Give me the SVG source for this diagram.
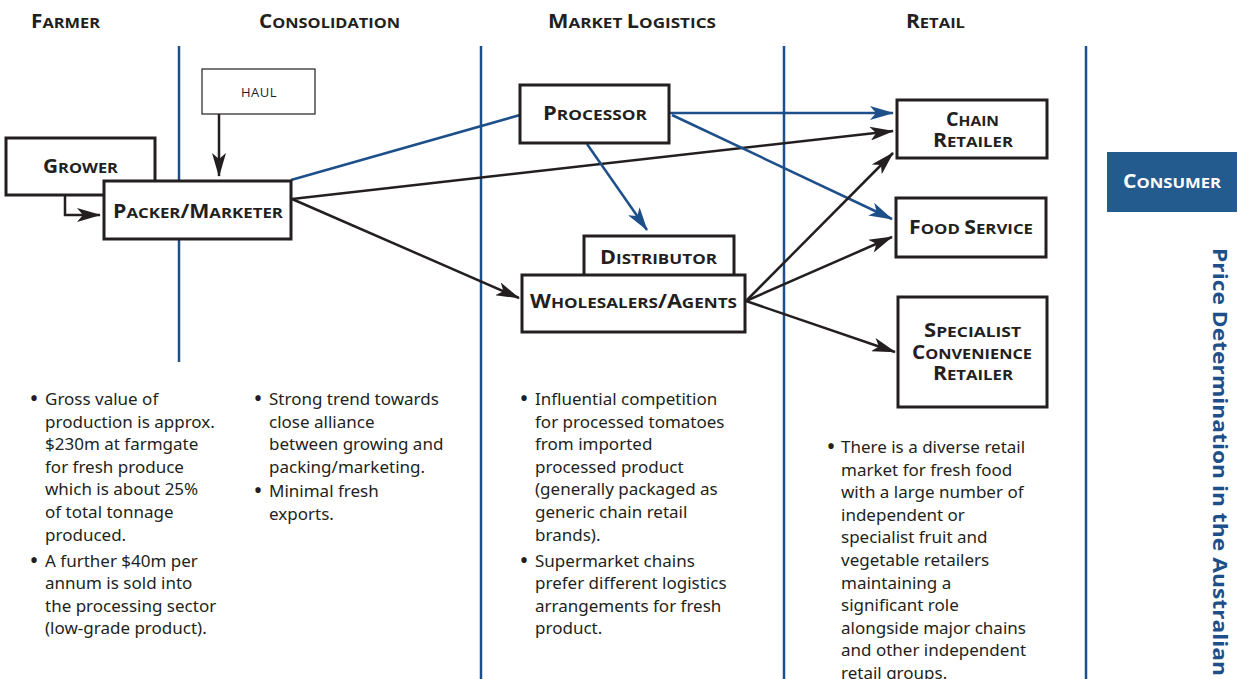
<svg xmlns="http://www.w3.org/2000/svg" width="1244" height="679" viewBox="0 0 1244 679">
  <style>
    .hdr { font-family: "Open Sans", "Liberation Sans", sans-serif; font-weight: 700; fill: #231f20; }
    .lbl { font-family: "Open Sans", "Liberation Sans", sans-serif; font-weight: 700; fill: #231f20; }
    .b { font-size: 19px; }
    .s { font-size: 15px; }
    .box { fill: #ffffff; stroke: #231f20; stroke-width: 3; }
    .thin { fill: #ffffff; stroke: #231f20; stroke-width: 1.2; }
    .sep { stroke: #1d4f8a; stroke-width: 2.5; }
    .blk { stroke: #231f20; stroke-width: 2.5; fill: none; }
    .blu { stroke: #1d4f8a; stroke-width: 2.5; fill: none; }
    .note { font-family: "Noto Sans", "Open Sans", sans-serif; font-size: 17px; fill: #231f20; }
    .dot { font-family: "Noto Sans", "Open Sans", sans-serif; font-size: 24px; fill: #231f20; text-anchor: middle; }
  </style>
  <defs>
    <marker id="ah" markerUnits="userSpaceOnUse" markerWidth="24" markerHeight="14" viewBox="0 0 24 14" refX="23" refY="7" orient="auto">
      <path d="M0,0 L24,7 L0,14 L6,7 z" fill="#231f20"/>
    </marker>
    <marker id="ahb" markerUnits="userSpaceOnUse" markerWidth="24" markerHeight="14" viewBox="0 0 24 14" refX="23" refY="7" orient="auto">
      <path d="M0,0 L24,7 L0,14 L6,7 z" fill="#1d4f8a"/>
    </marker>
  </defs>
  <rect width="1244" height="679" fill="#ffffff"/>

  <!-- column headers -->
  <g id="headers">
    <text class="hdr" x="31" y="28" textLength="69" lengthAdjust="spacingAndGlyphs"><tspan class="b">F</tspan><tspan class="s">ARMER</tspan></text>
    <text class="hdr" x="259" y="28" textLength="141" lengthAdjust="spacingAndGlyphs"><tspan class="b">C</tspan><tspan class="s">ONSOLIDATION</tspan></text>
    <text class="hdr" x="548" y="28" textLength="168" lengthAdjust="spacingAndGlyphs"><tspan class="b">M</tspan><tspan class="s">ARKET </tspan><tspan class="b">L</tspan><tspan class="s">OGISTICS</tspan></text>
    <text class="hdr" x="906" y="28" textLength="59" lengthAdjust="spacingAndGlyphs"><tspan class="b">R</tspan><tspan class="s">ETAIL</tspan></text>
  </g>

  <!-- column separators -->
  <g id="separators">
    <line class="sep" x1="179" y1="46" x2="179" y2="362"/>
    <line class="sep" x1="481" y1="46" x2="481" y2="679"/>
    <line class="sep" x1="784" y1="46" x2="784" y2="679"/>
    <line class="sep" x1="1086" y1="46" x2="1086" y2="679"/>
  </g>

  <!-- connectors -->
  <g id="connectors">
    <path class="blk" d="M65,195 V215 H100" marker-end="url(#ah)"/>
    <path class="blk" d="M219,114 V176" stroke-width="1.5" marker-end="url(#ah)"/>
    <path class="blu" d="M291,180 L520,115"/>
    <path class="blk" d="M292,199 L893,131" marker-end="url(#ah)"/>
    <path class="blk" d="M292,199 L519,298" marker-end="url(#ah)"/>
    <path class="blu" d="M669,113 L893,113" marker-end="url(#ahb)"/>
    <path class="blu" d="M672,115 L892,219" marker-end="url(#ahb)"/>
    <path class="blu" d="M587,144 L647,230" marker-end="url(#ahb)"/>
    <path class="blk" d="M746,301 L893,153" marker-end="url(#ah)"/>
    <path class="blk" d="M746,301 L892,237" marker-end="url(#ah)"/>
    <path class="blk" d="M746,301 L895,352" marker-end="url(#ah)"/>
  </g>

  <!-- nodes -->
  <g id="haul">
    <rect class="thin" x="202" y="69" width="113" height="45"/>
    <text x="259" y="97" text-anchor="middle" font-family="Open Sans, Liberation Sans, sans-serif" font-size="13" fill="#231f20" letter-spacing="0.5">HAUL</text>
  </g>
  <g id="grower">
    <rect class="box" x="6" y="138" width="149" height="57"/>
    <text class="lbl" x="80.5" y="173" text-anchor="middle" textLength="75" lengthAdjust="spacingAndGlyphs"><tspan class="b">G</tspan><tspan class="s">ROWER</tspan></text>
  </g>
  <g id="packer">
    <rect class="box" x="104" y="181" width="187" height="58"/>
    <text class="lbl" x="198" y="218" text-anchor="middle" textLength="170" lengthAdjust="spacingAndGlyphs"><tspan class="b">P</tspan><tspan class="s">ACKER</tspan><tspan class="b">/M</tspan><tspan class="s">ARKETER</tspan></text>
  </g>
  <g id="processor">
    <rect class="box" x="520" y="85" width="149" height="58"/>
    <text class="lbl" x="595" y="120" text-anchor="middle" textLength="104" lengthAdjust="spacingAndGlyphs"><tspan class="b">P</tspan><tspan class="s">ROCESSOR</tspan></text>
  </g>
  <g id="distributor">
    <rect class="box" x="584" y="236" width="150" height="43"/>
    <text class="lbl" x="658.5" y="264" text-anchor="middle" textLength="117" lengthAdjust="spacingAndGlyphs"><tspan class="b">D</tspan><tspan class="s">ISTRIBUTOR</tspan></text>
  </g>
  <g id="wholesalers">
    <rect class="box" x="522" y="275" width="223" height="57"/>
    <text class="lbl" x="633.5" y="308" text-anchor="middle" textLength="207" lengthAdjust="spacingAndGlyphs"><tspan class="b">W</tspan><tspan class="s">HOLESALERS</tspan><tspan class="b">/A</tspan><tspan class="s">GENTS</tspan></text>
  </g>
  <g id="chain-retailer">
    <rect class="box" x="897" y="100" width="150" height="58"/>
    <text class="lbl" x="972.5" y="126" text-anchor="middle" textLength="53" lengthAdjust="spacingAndGlyphs"><tspan class="b">C</tspan><tspan class="s">HAIN</tspan></text>
    <text class="lbl" x="973" y="147" text-anchor="middle" textLength="80" lengthAdjust="spacingAndGlyphs"><tspan class="b">R</tspan><tspan class="s">ETAILER</tspan></text>
  </g>
  <g id="food-service">
    <rect class="box" x="896" y="198" width="150" height="59"/>
    <text class="lbl" x="971" y="234" text-anchor="middle" textLength="124" lengthAdjust="spacingAndGlyphs"><tspan class="b">F</tspan><tspan class="s">OOD </tspan><tspan class="b">S</tspan><tspan class="s">ERVICE</tspan></text>
  </g>
  <g id="specialist">
    <rect class="box" x="898" y="297" width="149" height="110"/>
    <text class="lbl" x="972.5" y="337" text-anchor="middle" textLength="97" lengthAdjust="spacingAndGlyphs"><tspan class="b">S</tspan><tspan class="s">PECIALIST</tspan></text>
    <text class="lbl" x="972" y="359" text-anchor="middle" textLength="120" lengthAdjust="spacingAndGlyphs"><tspan class="b">C</tspan><tspan class="s">ONVENIENCE</tspan></text>
    <text class="lbl" x="973" y="380" text-anchor="middle" textLength="80" lengthAdjust="spacingAndGlyphs"><tspan class="b">R</tspan><tspan class="s">ETAILER</tspan></text>
  </g>
  <g id="consumer">
    <rect x="1107" y="152" width="130" height="60" fill="#245b8f"/>
    <text class="lbl" x="1172" y="188" text-anchor="middle" textLength="98" lengthAdjust="spacingAndGlyphs" style="fill:#ffffff"><tspan class="b">C</tspan><tspan class="s">ONSUMER</tspan></text>
  </g>

  <!-- vertical title -->
  <text transform="translate(1213,248) rotate(90)" font-family="Open Sans, DejaVu Sans, sans-serif" font-weight="700" font-size="20" fill="#1d4f8a" textLength="428" lengthAdjust="spacingAndGlyphs">Price Determination in the Australian</text>

  <!-- notes -->
  <g id="notes-farmer">
    <text class="dot" x="34" y="407">•</text>
    <text class="dot" x="34" y="568.5">•</text>
    <text class="note">
      <tspan x="45" y="405">Gross value of</tspan>
      <tspan x="45" y="427.6">production is approx.</tspan>
      <tspan x="45" y="450.2">$230m at farmgate</tspan>
      <tspan x="45" y="472.8">for fresh produce</tspan>
      <tspan x="45" y="495.4">which is about 25%</tspan>
      <tspan x="45" y="518">of total tonnage</tspan>
      <tspan x="45" y="540.6">produced.</tspan>
      <tspan x="45" y="566.5">A further $40m per</tspan>
      <tspan x="45" y="589.1">annum is sold into</tspan>
      <tspan x="45" y="611.7">the processing sector</tspan>
      <tspan x="45" y="634.3">(low-grade product).</tspan>
    </text>
  </g>
  <g id="notes-consolidation">
    <text class="dot" x="258" y="407">•</text>
    <text class="dot" x="258" y="499">•</text>
    <text class="note">
      <tspan x="269" y="405">Strong trend towards</tspan>
      <tspan x="269" y="427.6">close alliance</tspan>
      <tspan x="269" y="450.2">between growing and</tspan>
      <tspan x="269" y="472.8">packing/marketing.</tspan>
      <tspan x="269" y="497">Minimal fresh</tspan>
      <tspan x="269" y="519.6">exports.</tspan>
    </text>
  </g>
  <g id="notes-logistics">
    <text class="dot" x="524" y="407">•</text>
    <text class="dot" x="524" y="568.5">•</text>
    <text class="note">
      <tspan x="535" y="405">Influential competition</tspan>
      <tspan x="535" y="427.6">for processed tomatoes</tspan>
      <tspan x="535" y="450.2">from imported</tspan>
      <tspan x="535" y="472.8">processed product</tspan>
      <tspan x="535" y="495.4">(generally packaged as</tspan>
      <tspan x="535" y="518">generic chain retail</tspan>
      <tspan x="535" y="540.6">brands).</tspan>
      <tspan x="535" y="566.5">Supermarket chains</tspan>
      <tspan x="535" y="589.1">prefer different logistics</tspan>
      <tspan x="535" y="611.7">arrangements for fresh</tspan>
      <tspan x="535" y="634.3">product.</tspan>
    </text>
  </g>
  <g id="notes-retail">
    <text class="dot" x="831" y="455">•</text>
    <text class="note">
      <tspan x="841" y="453">There is a diverse retail</tspan>
      <tspan x="841" y="475.6">market for fresh food</tspan>
      <tspan x="841" y="498.2">with a large number of</tspan>
      <tspan x="841" y="520.8">independent or</tspan>
      <tspan x="841" y="543.4">specialist fruit and</tspan>
      <tspan x="841" y="566">vegetable retailers</tspan>
      <tspan x="841" y="588.6">maintaining a</tspan>
      <tspan x="841" y="611.2">significant role</tspan>
      <tspan x="841" y="633.8">alongside major chains</tspan>
      <tspan x="841" y="656.4">and other independent</tspan>
      <tspan x="841" y="679">retail groups.</tspan>
    </text>
  </g>
</svg>
